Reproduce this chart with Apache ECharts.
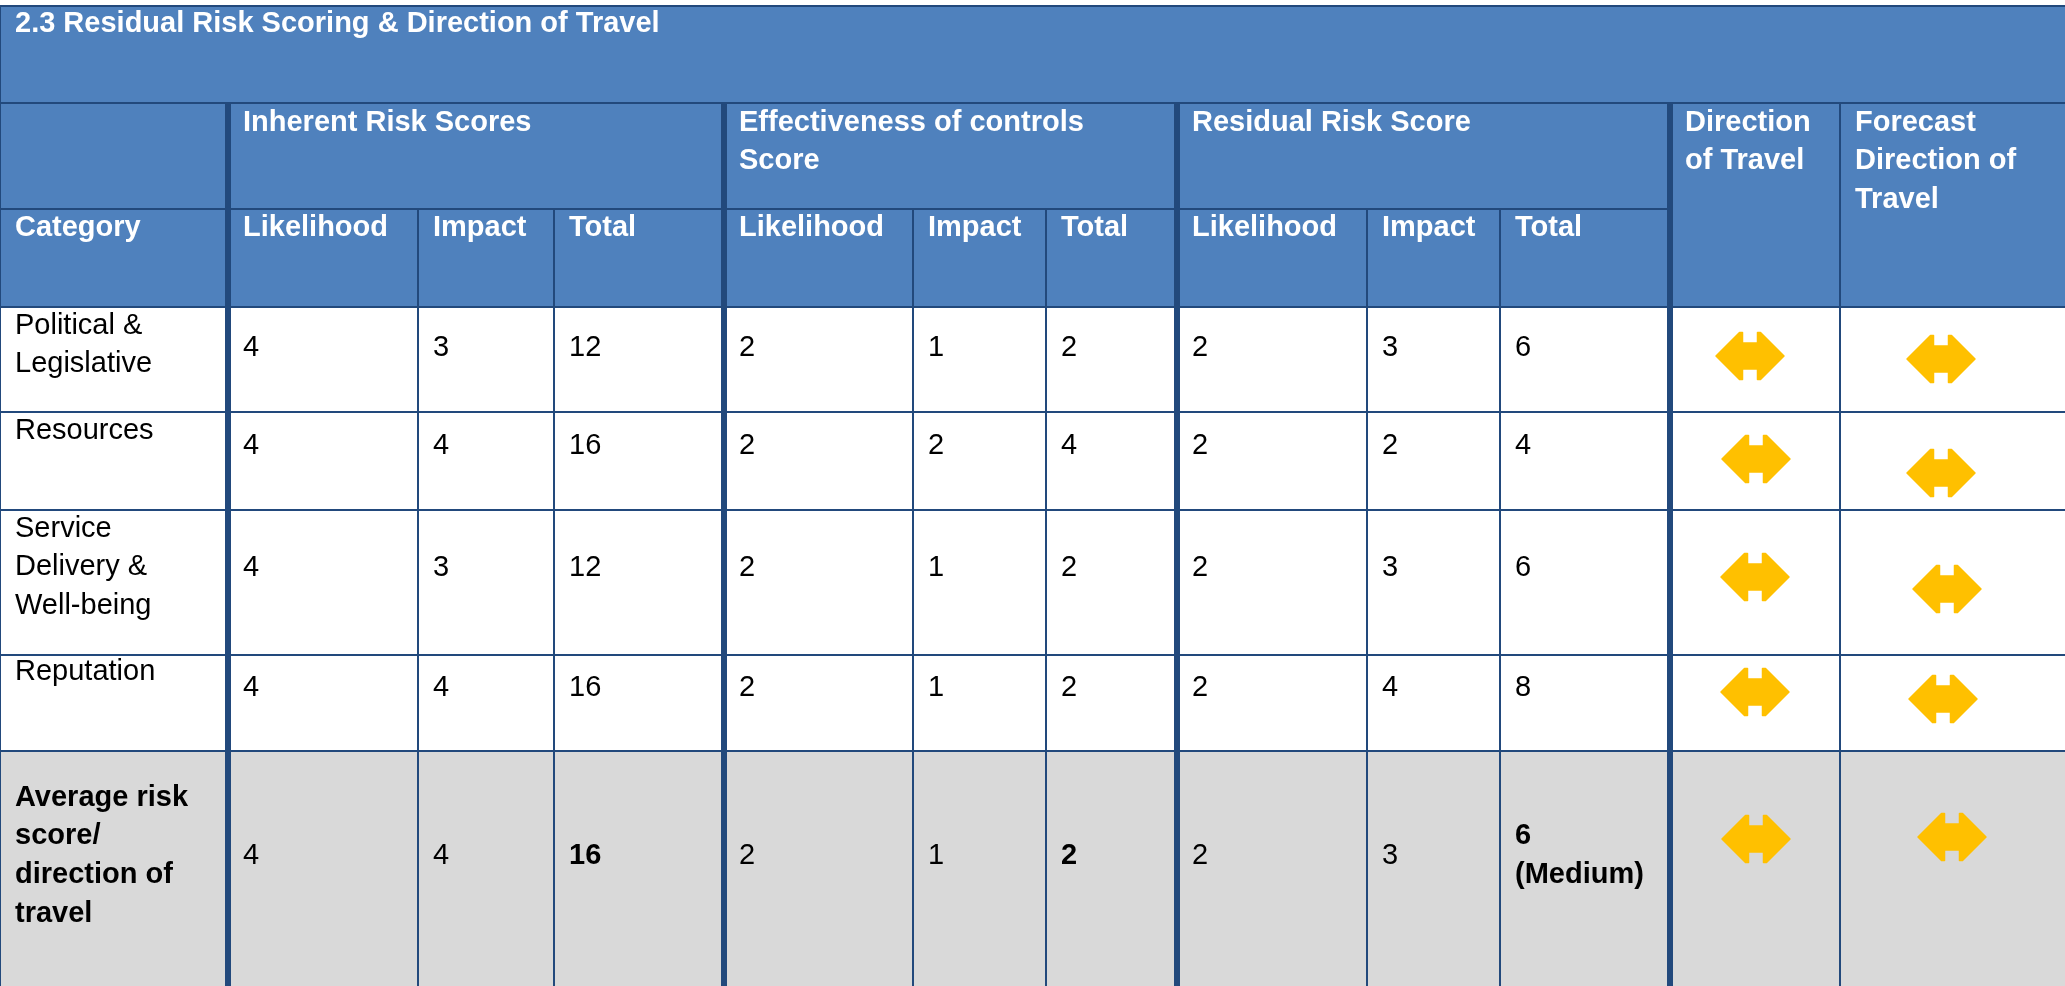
<!DOCTYPE html>
<html>
<head>
<meta charset="utf-8">
<script src="https://cdn.jsdelivr.net/npm/echarts@6/dist/echarts.min.js"></script>
<style>
html,body{margin:0;padding:0;background:#ffffff;}
#chart{width:2065px;height:986px;}
</style>
</head>
<body>
<div id="chart"></div>
<script>
// ---------------- data ----------------
const titleText = '2.3 Residual Risk Scoring & Direction of Travel';
const groupHeaders = ['Inherent Risk Scores', 'Effectiveness of controls\nScore', 'Residual Risk Score'];
const travelHeaders = ['Direction\nof Travel', 'Forecast\nDirection of\nTravel'];
const categoryHeader = 'Category';
const subHeaders = ['Likelihood', 'Impact', 'Total'];
const categories = [
  'Political &\nLegislative',
  'Resources',
  'Service\nDelivery &\nWell-being',
  'Reputation',
  'Average risk\nscore/\ndirection of\ntravel'
];
const inherentLikelihood = [4, 4, 4, 4, 4];
const inherentImpact     = [3, 4, 3, 4, 4];
const inherentTotal      = [12, 16, 12, 16, 16];
const controlsLikelihood = [2, 2, 2, 2, 2];
const controlsImpact     = [1, 2, 1, 1, 1];
const controlsTotal      = [2, 4, 2, 2, 2];
const residualLikelihood = [2, 2, 2, 2, 2];
const residualImpact     = [3, 2, 3, 4, 3];
const residualTotal      = [6, 4, 6, 8, 6];
const residualRating     = ['', '', '', '', '(Medium)'];
const directionOfTravel  = ['level', 'level', 'level', 'level', 'level'];
const forecastDirection  = ['level', 'level', 'level', 'level', 'level'];
const summaryRowIndex = 4;

// ---------------- layout (table units) ----------------
const COLS = [0, 228, 418, 554, 724, 913, 1046, 1177, 1367, 1500, 1670, 1840, 2065];
const ROWS = [6, 103, 209, 307, 412, 510, 655, 751, 990];
const PAD = 15, PITCH = 38.7, CAP = 21, FS = 29;
const FONT_FAMILY = '"Liberation Sans", Arial, sans-serif';
const COLORS = { line: '#22497C', head: '#4F81BD', body: '#FFFFFF', summary: '#D9D9D9', arrow: '#FFC000', ink: '#000000', headInk: '#FFFFFF' };
const catTopDy = [8, 8.5, 8, 6.6, 36];
const valCenterDy = [40.5, 34, 57.5, 32.5, 104.5];
const dirArrowNudge = [[-5, 49], [1, 47], [0, 67], [0, 37], [1, 88]];
const fcArrowNudge = [[-11.5, 52], [-11.5, 61], [-5.5, 79], [-9.5, 44], [-0.5, 86]];

// ---------------- build cell fills ----------------
const nRows = categories.length;
const fills = [];
fills.push({ c0: 0, c1: 12, r0: 0, r1: 3, color: COLORS.head });
for (let r = 0; r < nRows; r++) {
  fills.push({ c0: 0, c1: 12, r0: 3 + r, r1: 4 + r, color: r === summaryRowIndex ? COLORS.summary : COLORS.body });
}

// ---------------- rules ----------------
const rules = [];
// horizontal: [rowIdx, colFrom, colTo, width]
rules.push({ h: true, at: 0, from: 0, to: 12, w: 2 });
rules.push({ h: true, at: 1, from: 0, to: 12, w: 2 });
rules.push({ h: true, at: 2, from: 0, to: 10, w: 2 });
for (let r = 3; r <= 7; r++) rules.push({ h: true, at: r, from: 0, to: 12, w: 2 });
// vertical
rules.push({ h: false, at: 0, from: 0, to: 8, w: 2 });
[1, 4, 7, 10].forEach(c => rules.push({ h: false, at: c, from: 1, to: 8, w: 6 }));
[2, 3, 5, 6, 8, 9].forEach(c => rules.push({ h: false, at: c, from: 2, to: 8, w: 2 }));
rules.push({ h: false, at: 11, from: 1, to: 8, w: 2 });

// ---------------- labels ----------------
const labels = [];
function addTop(col, capTop, text, bold, color) {
  labels.push({ x: COLS[col] + PAD, top: capTop, lines: String(text).split('\n'), bold, color });
}
function addCentered(col, center, text, bold, color) {
  const lines = String(text).split('\n');
  const top = center - CAP / 2 - (lines.length - 1) * PITCH / 2;
  labels.push({ x: COLS[col] + PAD, top, lines, bold, color });
}
addTop(0, ROWS[0] + 7, titleText, true, COLORS.headInk);
[1, 4, 7].forEach((c, i) => addTop(c, ROWS[1] + 9, groupHeaders[i], true, COLORS.headInk));
[10, 11].forEach((c, i) => addTop(c, ROWS[1] + 9, travelHeaders[i], true, COLORS.headInk));
addTop(0, ROWS[2] + 8, categoryHeader, true, COLORS.headInk);
for (let g = 0; g < 3; g++) for (let k = 0; k < 3; k++) addTop(1 + g * 3 + k, ROWS[2] + 8, subHeaders[k], true, COLORS.headInk);

const valueColumns = [inherentLikelihood, inherentImpact, inherentTotal,
  controlsLikelihood, controlsImpact, controlsTotal,
  residualLikelihood, residualImpact, residualTotal];
const totalColumns = [2, 5, 8];
for (let r = 0; r < nRows; r++) {
  const isSum = r === summaryRowIndex;
  addTop(0, ROWS[3 + r] + catTopDy[r], categories[r], isSum, COLORS.ink);
  valueColumns.forEach((arr, j) => {
    let text = String(arr[r]);
    if (j === 8 && residualRating[r]) text += '\n' + residualRating[r];
    addCentered(1 + j, ROWS[3 + r] + valCenterDy[r], text, isSum && totalColumns.includes(j), COLORS.ink);
  });
}

// ---------------- arrows ----------------
const arrows = [];
for (let r = 0; r < nRows; r++) {
  arrows.push({ col: 10, row: r, kind: directionOfTravel[r], nudge: dirArrowNudge[r] });
  arrows.push({ col: 11, row: r, kind: forecastDirection[r], nudge: fcArrowNudge[r] });
}
// level (sideways) double arrow outline in table units relative to centre
const LEVEL_ARROW = [[-34, 0], [-10.5, -23.5], [-7.5, -23.5], [-7.5, -13], [7.5, -13], [7.5, -23.5], [10.5, -23.5],
  [34, 0], [10.5, 23.5], [7.5, 23.5], [7.5, 13], [-7.5, 13], [-7.5, 23.5], [-10.5, 23.5]];

// ---------------- chart ----------------
const chart = echarts.init(document.getElementById('chart'), null, { renderer: 'canvas' });

const option = {
  animation: false,
  backgroundColor: '#ffffff',
  grid: { left: 0, right: 0, top: 0, bottom: 0 },
  xAxis: { type: 'value', min: 0, max: 2065, show: false },
  yAxis: { type: 'value', min: 0, max: 986, inverse: true, show: false },
  tooltip: { show: false },
  series: [
    {
      type: 'custom', name: 'cells', z: 1, silent: true, clip: false,
      data: fills.map(f => [COLS[f.c0], ROWS[f.r0]]),
      renderItem: function (params, api) {
        const f = fills[params.dataIndex];
        const p0 = api.coord([COLS[f.c0], ROWS[f.r0]]);
        const p1 = api.coord([COLS[f.c1], ROWS[f.r1]]);
        return { type: 'rect', shape: { x: p0[0], y: p0[1], width: p1[0] - p0[0], height: p1[1] - p0[1] }, style: { fill: f.color } };
      }
    },
    {
      type: 'custom', name: 'rules', z: 3, silent: true, clip: false,
      data: rules.map(l => [l.h ? COLS[l.from] : COLS[l.at], l.h ? ROWS[l.at] : ROWS[l.from]]),
      renderItem: function (params, api) {
        const l = rules[params.dataIndex];
        let a, b;
        if (l.h) { a = api.coord([COLS[l.from], ROWS[l.at]]); b = api.coord([COLS[l.to], ROWS[l.at]]); }
        else { a = api.coord([COLS[l.at], ROWS[l.from]]); b = api.coord([COLS[l.at], ROWS[l.to]]); }
        return { type: 'line', shape: { x1: a[0], y1: a[1], x2: b[0], y2: b[1] }, style: { stroke: COLORS.line, lineWidth: l.w } };
      }
    },
    {
      type: 'custom', name: 'labels', z: 4, silent: true, clip: false,
      data: labels.map(t => [t.x, t.top]),
      renderItem: function (params, api) {
        const t = labels[params.dataIndex];
        const children = t.lines.map((line, i) => {
          const p = api.coord([t.x, t.top + CAP / 2 + i * PITCH]);
          return {
            type: 'text', x: p[0], y: p[1],
            style: { text: line, fill: t.color, font: (t.bold ? 'bold ' : '') + FS + 'px ' + FONT_FAMILY, align: 'left', verticalAlign: 'middle' }
          };
        });
        return { type: 'group', children };
      }
    },
    {
      type: 'custom', name: 'arrows', z: 5, silent: true, clip: false,
      data: arrows.map(a => [(COLS[a.col] + COLS[a.col + 1]) / 2, ROWS[3 + a.row]]),
      renderItem: function (params, api) {
        const a = arrows[params.dataIndex];
        const cx = (COLS[a.col] + COLS[a.col + 1]) / 2 + a.nudge[0];
        const cy = ROWS[3 + a.row] + a.nudge[1];
        const pts = LEVEL_ARROW.map(p => api.coord([cx + p[0], cy + p[1]]));
        return { type: 'polygon', shape: { points: pts }, style: { fill: COLORS.arrow, stroke: COLORS.arrow, lineWidth: 1.5, lineJoin: 'round' } };
      }
    }
  ]
};
chart.setOption(option);
</script>
</body>
</html>
